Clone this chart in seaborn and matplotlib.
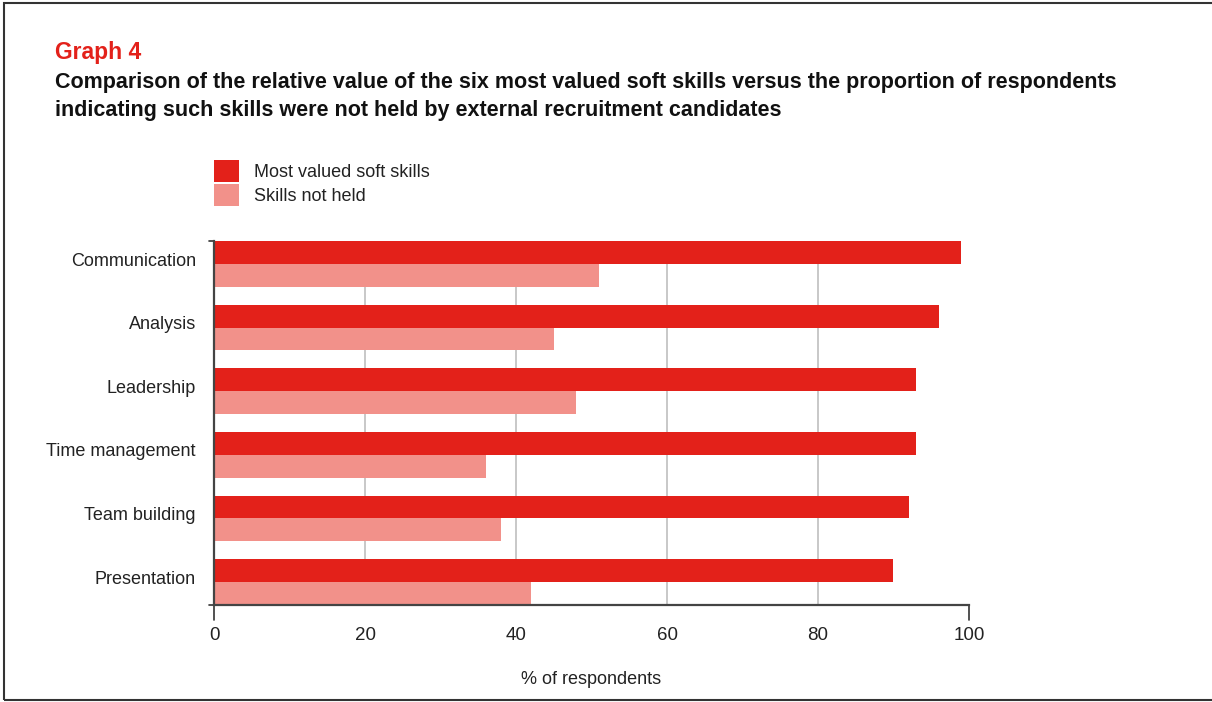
import matplotlib
matplotlib.use("Agg")
import matplotlib.pyplot as plt
import matplotlib.transforms as mtransforms
import seaborn as sns
import pandas as pd
from matplotlib.patches import Rectangle, Patch

skills = ["Communication", "Analysis", "Leadership", "Time management",
          "Team building", "Presentation"]
most_valued = [99, 96, 93, 93, 92, 90]
not_held = [51, 45, 48, 36, 38, 42]
series_names = ["Most valued soft skills", "Skills not held"]
x_ticks = [0, 20, 40, 60, 80, 100]

RED = "#E3211A"
PINK = "#F2918A"

sns.set_theme(style="white")
plt.rcParams["font.family"] = ["Liberation Sans", "DejaVu Sans"]

df = pd.DataFrame({
    "skill": skills * 2,
    "value": most_valued + not_held,
    "series": [series_names[0]] * len(skills) + [series_names[1]] * len(skills),
})

fig = plt.figure(figsize=(12.12, 7.02), dpi=100)
ax = fig.add_axes([214 / 1212, 1 - 605 / 702, (969 - 214) / 1212, (605 - 241) / 702])

sns.barplot(data=df, y="skill", x="value", hue="series", order=skills,
            hue_order=series_names, palette=[RED, PINK], orient="h",
            width=0.72, gap=0, saturation=1, legend=False, ax=ax,
            linewidth=0, zorder=3)

ax.set_xlim(0, 100)
ax.set_ylim(len(skills) - 1 + 0.36, -0.36)
ax.set_xticks(x_ticks)
ax.set_xticklabels([str(t) for t in x_ticks], fontsize=13.5, color="#222222")
ax.set_yticks(range(len(skills)))
ax.set_yticklabels(skills, fontsize=13, color="#222222")
ax.tick_params(axis="y", length=0, pad=13)
ax.tick_params(axis="x", length=0, pad=16)
# lift the category labels slightly above the group centre
lift = mtransforms.ScaledTranslation(0, 3.5 / 72, fig.dpi_scale_trans)
for lbl in ax.get_yticklabels():
    lbl.set_transform(lbl.get_transform() + lift)
ax.xaxis.grid(True, color="#c4c4c4", linewidth=1.3, zorder=0)
gl = ax.get_xgridlines()
gl[0].set_visible(False)
gl[-1].set_visible(False)
ax.yaxis.grid(False)
ax.set_ylabel("")
ax.set_xlabel("% of respondents", fontsize=13, color="#222222", labelpad=19)

for side in ["top", "right"]:
    ax.spines[side].set_visible(False)
for side in ["left", "bottom"]:
    ax.spines[side].set_color("#444444")
    ax.spines[side].set_linewidth(1.6)
    ax.spines[side].set_zorder(4)

# short end ticks on the axis lines
ax.plot([0, 0], [0, -0.04], transform=ax.transAxes, color="#333333", lw=1.2, clip_on=False)
ax.plot([1, 1], [0, -0.04], transform=ax.transAxes, color="#333333", lw=1.2, clip_on=False)
ax.plot([-0.007, 0], [1, 1], transform=ax.transAxes, color="#333333", lw=1.2, clip_on=False)
ax.plot([-0.007, 0], [0, 0], transform=ax.transAxes, color="#333333", lw=1.2, clip_on=False)

handles = [Patch(facecolor=RED, edgecolor="none"), Patch(facecolor=PINK, edgecolor="none")]
fig.legend(handles, series_names, loc="upper left",
           bbox_to_anchor=(198 / 1212, 1 - 144 / 702), frameon=False,
           fontsize=13, handlelength=1.35, handleheight=1.5, handletextpad=0.85,
           labelspacing=0.1, labelcolor="#222222")

fig.text(55 / 1212, 1 - 59 / 702, "Graph 4", color=RED, fontsize=16.5,
         fontweight="bold", ha="left", va="baseline")
fig.text(55 / 1212, 1 - 88 / 702,
         "Comparison of the relative value of the six most valued soft skills versus the proportion of respondents",
         color="#111111", fontsize=15.5, fontweight="bold", ha="left", va="baseline")
fig.text(55 / 1212, 1 - 116 / 702,
         "indicating such skills were not held by external recruitment candidates",
         color="#111111", fontsize=15.5, fontweight="bold", ha="left", va="baseline")

# page frame
fig.patches.append(Rectangle((4 / 1212, 1 - 700 / 702), 1.2, (700 - 3) / 702,
                             transform=fig.transFigure, fill=False,
                             edgecolor="#333333", linewidth=1.5))

fig.savefig("out.png", dpi=100)
